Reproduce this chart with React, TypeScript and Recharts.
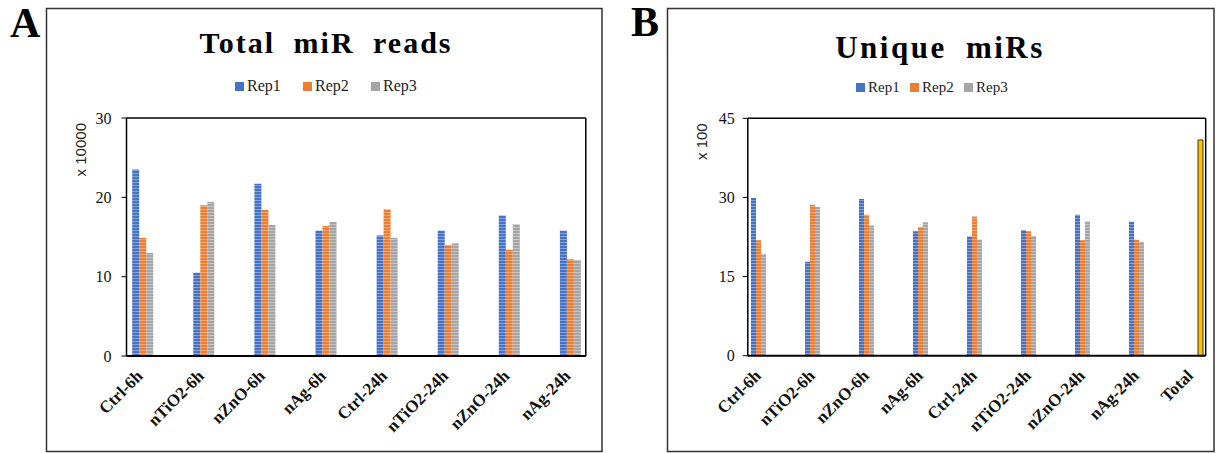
import React from "react";
import { BarChart, Bar, XAxis, YAxis, CartesianGrid, Label } from "recharts";

// Panel A: total miR reads (x 10000)
const categories = ["Ctrl-6h", "nTiO2-6h", "nZnO-6h", "nAg-6h", "Ctrl-24h", "nTiO2-24h", "nZnO-24h", "nAg-24h"];
const readsRep1 = [23.5, 10.5, 21.7, 15.8, 15.2, 15.8, 17.7, 15.8];
const readsRep2 = [14.9, 19.0, 18.4, 16.4, 18.5, 14.0, 13.4, 12.2];
const readsRep3 = [13.0, 19.4, 16.5, 16.9, 14.9, 14.2, 16.6, 12.1];
const readsTicks = [0, 10, 20, 30];

// Panel B: unique miRs (x 100)
const uniqueCategories = [...categories, "Total"];
const uniqueRep1 = [29.9, 17.8, 29.7, 23.6, 22.6, 23.8, 26.7, 25.4, null];
const uniqueRep2 = [21.9, 28.6, 26.7, 24.4, 26.4, 23.6, 21.9, 22.0, null];
const uniqueRep3 = [19.3, 28.2, 24.7, 25.3, 22.0, 22.7, 25.5, 21.6, null];
const uniqueTotal = [null, null, null, null, null, null, null, null, 40.9];
const uniqueTicks = [0, 15, 30, 45];

const seriesNames = ["Rep1", "Rep2", "Rep3"];
const seriesColors = ["#4472C4", "#ED7D31", "#A5A5A5"];
const totalColor = "#FFC000";

const readsData = categories.map((name, i) => ({
  name,
  Rep1: readsRep1[i],
  Rep2: readsRep2[i],
  Rep3: readsRep3[i],
}));

const uniqueData = uniqueCategories.map((name, i) => ({
  name,
  Rep1: uniqueRep1[i],
  Rep2: uniqueRep2[i],
  Rep3: uniqueRep3[i],
  Total: uniqueTotal[i],
}));

const serif = "'Liberation Serif', 'Times New Roman', serif";
const sans = "'Liberation Sans', Arial, sans-serif";

function Stripes({ id, color }: { id: string; color: string }) {
  return (
    <pattern id={id} width={4} height={3} patternUnits="userSpaceOnUse">
      <rect width={4} height={3} fill={color} />
      <rect y={2} width={4} height={1} fill="#fff" fillOpacity={0.35} />
    </pattern>
  );
}

const RotatedTick = (props: any) => {
  const { x, y, payload } = props;
  const tx = x + 1;
  const ty = y + 21;
  return (
    <text
      x={tx}
      y={ty}
      transform={`rotate(-45, ${tx}, ${ty})`}
      textAnchor="end"
      fontFamily={serif}
      fontWeight="bold"
      fontSize={17}
      fill="#111"
    >
      {payload.value}
    </text>
  );
};

const axisTitle = (text: string) => (props: any) => {
  const { viewBox } = props;
  const x = viewBox.x + 19;
  const y = viewBox.y + 5;
  return (
    <text
      x={x}
      y={y}
      transform={`rotate(-90, ${x}, ${y})`}
      textAnchor="end"
      fontFamily={sans}
      fontSize={15}
      fill="#222"
    >
      {text}
    </text>
  );
};

const frameGrid = (
  <CartesianGrid
    stroke="#000"
    strokeWidth={1.5}
    horizontalCoordinatesGenerator={({ offset }: any) => [offset.top]}
    verticalCoordinatesGenerator={({ offset }: any) => [offset.left + offset.width]}
  />
);

function ReadsChart() {
  return (
    <BarChart
      width={600}
      height={453}
      data={readsData}
      margin={{ top: 118, right: 14.2, bottom: 17, left: 66.5 }}
      barGap={0}
      barSize={7}
    >
      <defs>
        {seriesNames.map((s, i) => (
          <Stripes key={s} id={`a-${s}`} color={seriesColors[i]} />
        ))}
      </defs>
      {frameGrid}
      <XAxis
        dataKey="name"
        interval={0}
        height={80}
        padding={{ left: -14.3, right: -15.2 }}
        tickSize={0}
        tickMargin={0}
        tickLine={false}
        axisLine={{ stroke: "#000", strokeWidth: 2 }}
        tick={<RotatedTick />}
      />
      <YAxis
        domain={[0, 30]}
        ticks={readsTicks}
        interval={0}
        width={60}
        tickSize={5}
        tickMargin={10}
        axisLine={{ stroke: "#000", strokeWidth: 1.5 }}
        tickLine={{ stroke: "#000" }}
        tick={{ fontFamily: serif, fontSize: 16, fill: "#111" }}
      >
        <Label content={axisTitle("x 10000")} />
      </YAxis>
      {seriesNames.map((s) => (
        <Bar key={s} dataKey={s} fill={`url(#a-${s})`} isAnimationActive={false} />
      ))}
    </BarChart>
  );
}

function UniqueChart() {
  return (
    <BarChart
      width={577}
      height={453}
      data={uniqueData}
      margin={{ top: 118.3, right: 11.3, bottom: 17.3, left: 47.8 }}
      barGap={0}
      barSize={5}
    >
      <defs>
        {seriesNames.map((s, i) => (
          <Stripes key={s} id={`b-${s}`} color={seriesColors[i]} />
        ))}
      </defs>
      {frameGrid}
      <XAxis
        dataKey="name"
        interval={0}
        height={80}
        padding={{ left: -13.8, right: -14.3 }}
        tickSize={0}
        tickMargin={0}
        tickLine={false}
        axisLine={{ stroke: "#000", strokeWidth: 2 }}
        tick={<RotatedTick />}
      />
      <YAxis
        domain={[0, 45]}
        ticks={uniqueTicks}
        interval={0}
        width={60}
        tickSize={5}
        tickMargin={8}
        axisLine={{ stroke: "#000", strokeWidth: 1.5 }}
        tickLine={{ stroke: "#000" }}
        tick={{ fontFamily: serif, fontSize: 16, fill: "#111" }}
      >
        <Label content={axisTitle("x 100")} />
      </YAxis>
      {seriesNames.map((s) => (
        <Bar key={s} dataKey={s} fill={`url(#b-${s})`} isAnimationActive={false} />
      ))}
      <Bar dataKey="Total" fill={totalColor} stroke="#333" strokeWidth={1} isAnimationActive={false} />
    </BarChart>
  );
}

function LegendRow({ x, y, stride, fontSize }: { x: number; y: number; stride: number; fontSize: number }) {
  return (
    <g>
      {seriesNames.map((s, i) => (
        <g key={s}>
          <rect x={x + i * stride} y={y - 9} width={9} height={9} fill={seriesColors[i]} />
          <text x={x + i * stride + 12} y={y} fontFamily={serif} fontSize={fontSize} fill="#222">
            {s}
          </text>
        </g>
      ))}
    </g>
  );
}

export default function App() {
  return (
    <div style={{ position: "absolute", left: 0, top: 0, width: 1217, height: 453, background: "#fff", overflow: "hidden" }}>
      <div style={{ position: "absolute", left: 0, top: 0 }}>
        <ReadsChart />
      </div>
      <div style={{ position: "absolute", left: 640, top: 0 }}>
        <UniqueChart />
      </div>
      <svg width={1217} height={453} style={{ position: "absolute", left: 0, top: 0, pointerEvents: "none" }}>
        <rect x={46.5} y={8.5} width={555.5} height={443} fill="none" stroke="#333" strokeWidth={1.5} />
        <rect x={667.5} y={8.5} width={546.5} height={443} fill="none" stroke="#333" strokeWidth={1.5} />
        <text x={10} y={37} fontFamily={serif} fontWeight="bold" fontSize={42} fill="#000">A</text>
        <text x={631} y={36} fontFamily={serif} fontWeight="bold" fontSize={42} fill="#000">B</text>
        <text x={326} y={53} textAnchor="middle" fontFamily={serif} fontWeight="bold" fontSize={30} letterSpacing={2} wordSpacing={9} fill="#000">
          Total miR reads
        </text>
        <text x={940} y={58} textAnchor="middle" fontFamily={serif} fontWeight="bold" fontSize={31} letterSpacing={2.5} wordSpacing={9} fill="#000">
          Unique miRs
        </text>
        <LegendRow x={235} y={91} stride={68} fontSize={16} />
        <LegendRow x={856} y={92} stride={54} fontSize={15} />
      </svg>
    </div>
  );
}
